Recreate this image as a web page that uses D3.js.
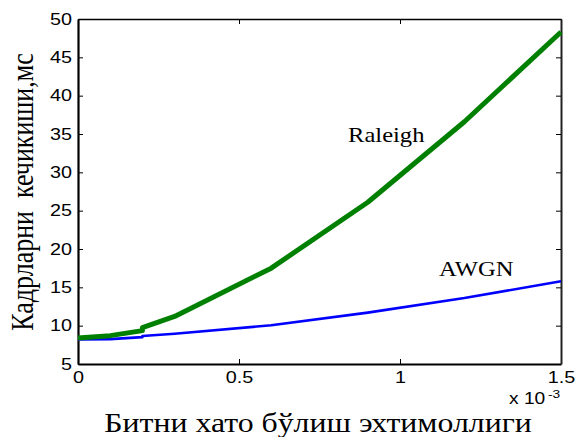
<!DOCTYPE html>
<html>
<head>
<meta charset="utf-8">
<script src="https://cdn.jsdelivr.net/npm/d3@7"></script>
<style>
  html, body { margin: 0; padding: 0; background: #fff; }
  svg { display: block; }
</style>
</head>
<body>
<svg id="chart" width="577" height="437"></svg>
<script>
// Bit error probability (x 10^-3); 0.2 appears twice where the curves step up
const berValues = [0, 0.1, 0.2, 0.2, 0.3, 0.6, 0.9, 1.2, 1.5];
// Frame delay, ms
const raleighDelay = [8.4, 8.7, 9.35, 9.75, 11.2, 17.5, 26.1, 36.6, 48.3];
const awgnDelay    = [8.2, 8.25, 8.5, 8.65, 8.95, 10.05, 11.7, 13.6, 15.8];

const xTickValues = [0, 0.5, 1, 1.5];
const xTickLabels = ["0", "0.5", "1", "1.5"];
const yTickValues = [5, 10, 15, 20, 25, 30, 35, 40, 45, 50];

const seriesNames = ["Raleigh", "AWGN"];
const yAxisTitle = "Кадрларни  кечикиши,мс";
const xAxisTitle = "Битни хато бўлиш эхтимоллиги";

const svg = d3.select("#chart");
const stretch = 1.2;           // glyphs are drawn slightly wide
const plotLeft = 78, plotRight = 561, plotTop = 19, plotBottom = 364;

const x = d3.scaleLinear().domain([0, 1.5]).range([plotLeft, plotRight]);
const y = d3.scaleLinear().domain([5, 50]).range([plotBottom, plotTop]);

svg.append("rect").attr("width", 577).attr("height", 437).attr("fill", "#fff");

const tickFont = "Arial, 'Liberation Sans', sans-serif";
const serif = "'Times New Roman', 'Liberation Serif', 'DejaVu Serif', serif";

// Axes (ticks point inward on all four sides)
const gLeft = svg.append("g").attr("transform", `translate(${plotLeft},0)`)
  .call(d3.axisLeft(y).tickValues(yTickValues).tickSizeInner(-5).tickSizeOuter(0).tickPadding(6));
gLeft.selectAll(".tick text")
  .attr("x", 0)
  .attr("transform", `translate(-6,0) scale(${stretch},1)`)
  .attr("font-family", tickFont).attr("font-size", 16.5).attr("fill", "#000");

const gBottom = svg.append("g").attr("transform", `translate(0,${plotBottom})`)
  .call(d3.axisBottom(x).tickValues(xTickValues).tickFormat((d, i) => xTickLabels[i])
    .tickSizeInner(-5).tickSizeOuter(0).tickPadding(7));
gBottom.selectAll(".tick text")
  .attr("y", 0)
  .attr("transform", `translate(0,7) scale(${stretch},1)`)
  .attr("font-family", tickFont).attr("font-size", 16.5).attr("fill", "#000");

const gTop = svg.append("g").attr("transform", `translate(0,${plotTop})`)
  .call(d3.axisTop(x).tickValues(xTickValues).tickFormat("").tickSizeInner(-5).tickSizeOuter(0));
const gRight = svg.append("g").attr("transform", `translate(${plotRight},0)`)
  .call(d3.axisRight(y).tickValues(yTickValues).tickFormat("").tickSizeInner(-5).tickSizeOuter(0));

[gLeft, gBottom, gTop, gRight].forEach(g => {
  g.selectAll(".tick line").attr("stroke", "#000").attr("stroke-width", 1);
});
gLeft.select(".domain").attr("stroke", "#000").attr("stroke-width", 2.2);
gBottom.select(".domain").attr("stroke", "#000").attr("stroke-width", 2.2);
gRight.select(".domain").attr("stroke", "#222").attr("stroke-width", 2);
gTop.select(".domain").attr("stroke", "#000").attr("stroke-width", 1.3);

// Curves
const line = d3.line().x(d => x(d[0])).y(d => y(d[1]));
const plot = svg.append("g");
plot.append("path")
  .datum(berValues.map((b, i) => [b, awgnDelay[i]]))
  .attr("d", line).attr("fill", "none")
  .attr("stroke", "#0000ff").attr("stroke-width", 2.6).attr("stroke-linejoin", "round");
plot.append("path")
  .datum(berValues.map((b, i) => [b, raleighDelay[i]]))
  .attr("d", line).attr("fill", "none")
  .attr("stroke", "#008000").attr("stroke-width", 5).attr("stroke-linejoin", "round");

// Series labels
function stretchedText(px, py, txt, size, family, anchor) {
  return svg.append("text")
    .attr("transform", `translate(${px},${py}) scale(${stretch},1)`)
    .attr("text-anchor", anchor || "start")
    .attr("font-family", family).attr("font-size", size).attr("fill", "#000")
    .text(txt);
}
stretchedText(348, 142, seriesNames[0], 20.5, serif);
stretchedText(439, 276, seriesNames[1], 20.5, serif);

// Exponent marker of the x axis
stretchedText(509, 404, "x 10", 16, tickFont);
stretchedText(548, 398, "-3", 11.5, tickFont);

// Axis titles
svg.append("text")
  .attr("transform", `translate(33,192) scale(${stretch},1) rotate(-90)`)
  .attr("text-anchor", "middle")
  .style("white-space", "pre")
  .attr("font-family", serif).attr("font-size", 26).attr("fill", "#000")
  .text(yAxisTitle);
stretchedText(318, 432, xAxisTitle, 26.5, serif, "middle");
</script>
</body>
</html>
